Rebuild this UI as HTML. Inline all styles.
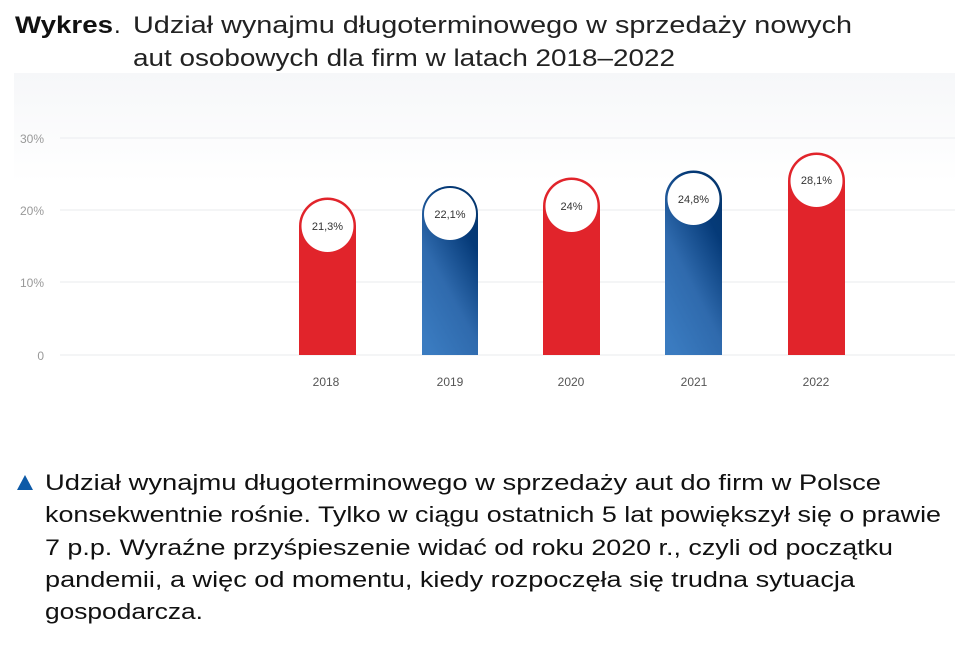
<!DOCTYPE html>
<html><head><meta charset="utf-8"><style>
html,body{margin:0;padding:0;background:#fff;}
svg{display:block;font-family:"Liberation Sans",sans-serif;}
</style></head><body>
<svg width="960" height="667" viewBox="0 0 960 667" xmlns="http://www.w3.org/2000/svg">
<defs>
<linearGradient id="bg" x1="0" y1="0" x2="0" y2="1">
<stop offset="0" stop-color="#f6f7f9"/><stop offset="1" stop-color="#ffffff"/></linearGradient>
<linearGradient id="blue" x1="0.2" y1="1" x2="0.8" y2="0">
<stop offset="0" stop-color="#3a7bc0"/><stop offset="0.4" stop-color="#2f6aad"/><stop offset="0.8" stop-color="#053a78"/><stop offset="1" stop-color="#05376f"/></linearGradient>
</defs>
<rect x="14" y="73" width="941" height="110" fill="url(#bg)"/>
<text x="15" y="33" font-size="24" font-weight="bold" fill="#111" textLength="98" lengthAdjust="spacingAndGlyphs">Wykres</text>
<text x="114" y="33" font-size="24" fill="#111">.</text>
<text x="133" y="33" font-size="24" fill="#222" textLength="719" lengthAdjust="spacingAndGlyphs">Udział wynajmu długoterminowego w sprzedaży nowych</text>
<text x="133" y="66" font-size="24" fill="#222" textLength="542" lengthAdjust="spacingAndGlyphs">aut osobowych dla firm w latach 2018–2022</text>
<g stroke="#eeeff1" stroke-width="1.2">
<line x1="60" y1="138" x2="955" y2="138"/><line x1="60" y1="210" x2="955" y2="210"/>
<line x1="60" y1="282" x2="955" y2="282"/><line x1="60" y1="355" x2="955" y2="355"/></g>
<g font-size="12" fill="#999" text-anchor="end">
<text x="44" y="143">30%</text><text x="44" y="215">20%</text><text x="44" y="287">10%</text><text x="44" y="360">0</text></g>
<g font-size="12" fill="#555" text-anchor="middle">
<text x="326" y="386">2018</text><text x="450" y="386">2019</text><text x="571" y="386">2020</text><text x="694" y="386">2021</text><text x="816" y="386">2022</text></g>
<!-- bars -->
<g>
<path d="M299,355 V226 A28.5,28.5 0 0 1 356,226 V355 Z" fill="#e1242b"/>
<circle cx="327.5" cy="226" r="26" fill="#fff"/>
<path d="M422,355 V214 A28,28 0 0 1 478,214 V355 Z" fill="url(#blue)"/>
<circle cx="450" cy="214" r="26" fill="#fff"/>
<path d="M543,355 V206 A28.5,28.5 0 0 1 600,206 V355 Z" fill="#e1242b"/>
<circle cx="571.5" cy="206" r="26" fill="#fff"/>
<path d="M665,355 V199 A28.5,28.5 0 0 1 722,199 V355 Z" fill="url(#blue)"/>
<circle cx="693.5" cy="199" r="26" fill="#fff"/>
<path d="M788,355 V181 A28.5,28.5 0 0 1 845,181 V355 Z" fill="#e1242b"/>
<circle cx="816.5" cy="181" r="26" fill="#fff"/>
</g>
<g font-size="11" fill="#333" text-anchor="middle">
<text x="327.5" y="230">21,3%</text><text x="450" y="218">22,1%</text><text x="571.5" y="210">24%</text><text x="693.5" y="203">24,8%</text><text x="816.5" y="184">28,1%</text></g>
<polygon points="17,490 33,490 25,475" fill="#0d5aa7"/>
<g font-size="22" fill="#111">
<text x="45" y="490" textLength="836" lengthAdjust="spacingAndGlyphs">Udział wynajmu długoterminowego w sprzedaży aut do firm w Polsce</text>
<text x="45" y="522" textLength="896" lengthAdjust="spacingAndGlyphs">konsekwentnie rośnie. Tylko w ciągu ostatnich 5 lat powiększył się o prawie</text>
<text x="45" y="555" textLength="848" lengthAdjust="spacingAndGlyphs">7 p.p. Wyraźne przyśpieszenie widać od roku 2020 r., czyli od początku</text>
<text x="45" y="587" textLength="810" lengthAdjust="spacingAndGlyphs">pandemii, a więc od momentu, kiedy rozpoczęła się trudna sytuacja</text>
<text x="45" y="619" textLength="158" lengthAdjust="spacingAndGlyphs">gospodarcza.</text>
</g>
</svg>
</body></html>
